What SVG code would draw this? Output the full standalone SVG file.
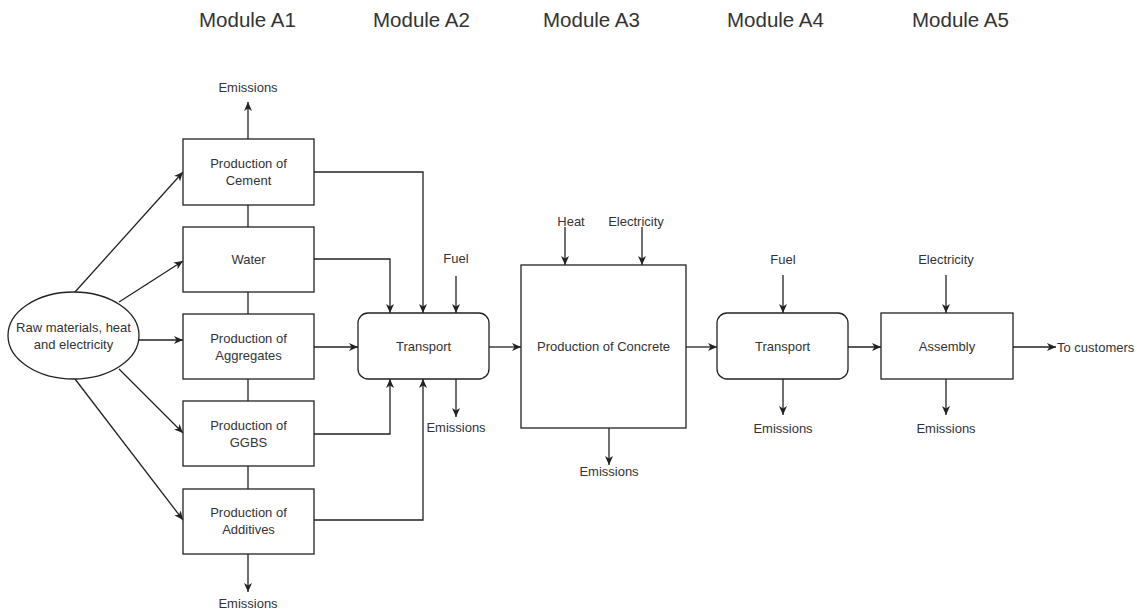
<svg xmlns="http://www.w3.org/2000/svg" width="1137" height="610" viewBox="0 0 1137 610">
<style>
.box{fill:#fff;stroke:#222;stroke-width:1.3}
.t{font-family:"Liberation Sans",Arial,sans-serif;font-size:13px;fill:#333;text-anchor:middle;dominant-baseline:central}
.h{font-family:"Liberation Sans",Arial,sans-serif;font-size:20.5px;fill:#333;text-anchor:start}
.c{fill:none;stroke:#222;stroke-width:1.3}
</style>
<defs>
<marker id="arr" markerUnits="userSpaceOnUse" markerWidth="10" markerHeight="9" refX="9" refY="4.5" orient="auto">
<path d="M0,0.5 L9,4.5 L0,8.5 L2.5,4.5 Z" fill="#222"/>
</marker>
</defs>
<rect width="1137" height="610" fill="#fff"/>
<g id="headers">
<text class="h" x="199" y="27">Module A1</text>
<text class="h" x="373" y="27">Module A2</text>
<text class="h" x="543" y="27">Module A3</text>
<text class="h" x="727" y="27">Module A4</text>
<text class="h" x="912" y="27">Module A5</text>
</g>
<g id="connectors">
<line class="c" x1="248" y1="205" x2="248" y2="227"/>
<line class="c" x1="248" y1="292" x2="248" y2="314"/>
<line class="c" x1="248" y1="379" x2="248" y2="401"/>
<line class="c" x1="248" y1="466" x2="248" y2="489"/>
<line class="c" x1="248" y1="139" x2="248" y2="102" marker-end="url(#arr)"/>
<line class="c" x1="248" y1="554" x2="248" y2="592" marker-end="url(#arr)"/>
<line class="c" x1="75" y1="292" x2="183" y2="172" marker-end="url(#arr)"/>
<line class="c" x1="119" y1="302" x2="183" y2="261" marker-end="url(#arr)"/>
<line class="c" x1="139" y1="340" x2="183" y2="340" marker-end="url(#arr)"/>
<line class="c" x1="119" y1="369" x2="183" y2="433" marker-end="url(#arr)"/>
<line class="c" x1="75" y1="379" x2="183" y2="520" marker-end="url(#arr)"/>
<polyline class="c" points="314,172 423,172 423,313" marker-end="url(#arr)"/>
<polyline class="c" points="314,259 390,259 390,313" marker-end="url(#arr)"/>
<line class="c" x1="314" y1="347" x2="358" y2="347" marker-end="url(#arr)"/>
<polyline class="c" points="314,434 390,434 390,379" marker-end="url(#arr)"/>
<polyline class="c" points="314,520 423,520 423,379" marker-end="url(#arr)"/>
<line class="c" x1="456" y1="276" x2="456" y2="313" marker-end="url(#arr)"/>
<line class="c" x1="456" y1="379" x2="456" y2="417" marker-end="url(#arr)"/>
<line class="c" x1="489" y1="347" x2="521" y2="347" marker-end="url(#arr)"/>
<line class="c" x1="565" y1="227" x2="565" y2="265" marker-end="url(#arr)"/>
<line class="c" x1="642" y1="227" x2="642" y2="265" marker-end="url(#arr)"/>
<line class="c" x1="609" y1="428" x2="609" y2="465" marker-end="url(#arr)"/>
<line class="c" x1="686" y1="347" x2="717" y2="347" marker-end="url(#arr)"/>
<line class="c" x1="783" y1="275" x2="783" y2="313" marker-end="url(#arr)"/>
<line class="c" x1="783" y1="379" x2="783" y2="415" marker-end="url(#arr)"/>
<line class="c" x1="848" y1="347" x2="881" y2="347" marker-end="url(#arr)"/>
<line class="c" x1="946" y1="275" x2="946" y2="313" marker-end="url(#arr)"/>
<line class="c" x1="946" y1="379" x2="946" y2="415" marker-end="url(#arr)"/>
<line class="c" x1="1013" y1="347" x2="1056" y2="347" marker-end="url(#arr)"/>
</g>
<g id="raw">
<ellipse class="box" cx="73.5" cy="335.5" rx="65.5" ry="43.5"/>
<text class="t" x="73.5" y="327">Raw materials, heat</text>
<text class="t" x="73.5" y="344">and electricity</text>
</g>
<g id="cement">
<rect class="box" x="183" y="139" width="131" height="66"/>
<text class="t" x="248.5" y="163">Production of</text>
<text class="t" x="248.5" y="180">Cement</text>
</g>
<g id="water">
<rect class="box" x="183" y="227" width="131" height="65"/>
<text class="t" x="248.5" y="259.5">Water</text>
</g>
<g id="aggregates">
<rect class="box" x="183" y="314" width="131" height="65"/>
<text class="t" x="248.5" y="338">Production of</text>
<text class="t" x="248.5" y="355">Aggregates</text>
</g>
<g id="ggbs">
<rect class="box" x="183" y="401" width="131" height="65"/>
<text class="t" x="248.5" y="425">Production of</text>
<text class="t" x="248.5" y="442">GGBS</text>
</g>
<g id="additives">
<rect class="box" x="183" y="489" width="131" height="65"/>
<text class="t" x="248.5" y="512">Production of</text>
<text class="t" x="248.5" y="529">Additives</text>
</g>
<g id="transport1">
<rect class="box" x="358" y="313" width="131" height="66" rx="10"/>
<text class="t" x="423.5" y="346">Transport</text>
</g>
<g id="concrete">
<rect class="box" x="521" y="265" width="165" height="163"/>
<text class="t" x="603.5" y="346">Production of Concrete</text>
</g>
<g id="transport2">
<rect class="box" x="717" y="313" width="131" height="66" rx="10"/>
<text class="t" x="782.5" y="346">Transport</text>
</g>
<g id="assembly">
<rect class="box" x="881" y="313" width="132" height="66"/>
<text class="t" x="947" y="346">Assembly</text>
</g>
<g id="labels">
<text class="t" x="248" y="87">Emissions</text>
<text class="t" x="248" y="603">Emissions</text>
<text class="t" x="456" y="258">Fuel</text>
<text class="t" x="456" y="427">Emissions</text>
<text class="t" x="571" y="221">Heat</text>
<text class="t" x="636" y="221">Electricity</text>
<text class="t" x="609" y="471">Emissions</text>
<text class="t" x="783" y="259">Fuel</text>
<text class="t" x="783" y="428">Emissions</text>
<text class="t" x="946" y="259">Electricity</text>
<text class="t" x="946" y="428">Emissions</text>
<text class="t" x="1057" y="347" style="text-anchor:start">To customers</text>
</g>
</svg>
